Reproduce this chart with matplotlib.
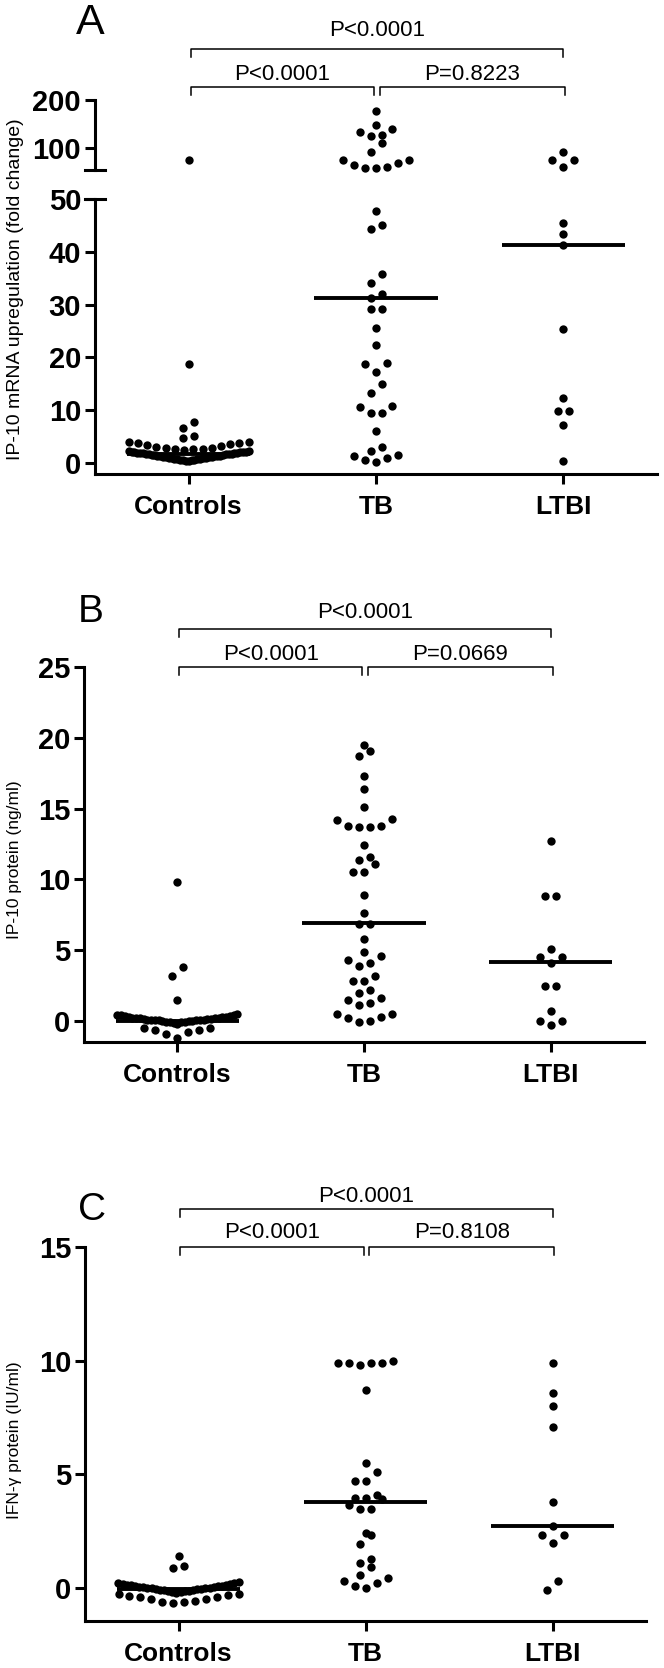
import numpy as np
import matplotlib
matplotlib.use('Agg')
import matplotlib.pyplot as plt
from matplotlib.transforms import blended_transform_factory

plt.rcParams['font.family'] = ['Liberation Sans', 'DejaVu Sans']

groups = ['Controls', 'TB', 'LTBI']

# A - IP-10 mRNA upregulation (fold change), broken axis
ctrl_a = [0.3, 0.4, 0.5, 0.5, 0.6, 0.6, 0.7, 0.7, 0.8, 0.8, 0.9, 0.9, 1.0, 1.0,
          1.1, 1.1, 1.2, 1.2, 1.3, 1.3, 1.3, 1.4, 1.4, 1.5, 1.5, 1.5, 1.6, 1.6,
          1.7, 1.7, 1.7, 1.8, 1.8, 1.8, 1.9, 1.9, 2.0, 2.0, 2.0, 2.1, 2.1, 2.2, 2.2,
          2.5, 2.6, 2.6, 2.7, 2.8, 2.9, 3.0, 3.2, 3.3, 3.5, 3.7, 3.8, 3.9, 4.0,
          4.7, 5.1, 6.7, 7.7, 18.7, 75]
tb_a = [0.1, 0.6, 1.0, 1.3, 1.5, 2.3, 3.1, 6.1, 9.4, 9.4, 10.6, 10.8, 13.2, 15.0,
        17.3, 18.7, 19.0, 22.3, 25.6, 29.1, 29.1, 31.2, 32.0, 34.0, 35.8, 44.3,
        45.1, 47.8, 59, 59, 61, 65, 68, 74, 74, 91, 111, 124, 127, 134, 140, 148, 177]
ltbi_a = [0.4, 7.2, 9.8, 9.8, 12.3, 25.3, 41.2, 43.4, 45.5, 60, 74, 74, 91]
med_a = [1.7, 31.2, 41.2]
p_a = ['P<0.0001', 'P=0.8223', 'P<0.0001']

# B - IP-10 protein (ng/ml)
ctrl_b = [-1.2, -0.95, -0.8, -0.65, -0.6, -0.5, -0.5,
          -0.2, -0.15, -0.1, -0.1, -0.05, -0.05, 0.0, 0.0, 0.0, 0.05, 0.05, 0.05,
          0.1, 0.1, 0.1, 0.1, 0.15, 0.15, 0.15, 0.2, 0.2, 0.2, 0.25, 0.25, 0.3,
          0.3, 0.3, 0.35, 0.35, 0.4, 0.4, 0.45, 0.5,
          1.5, 3.2, 3.8, 9.8]
tb_b = [19.1, 18.7, 19.5, 17.3, 16.4, 15.1, 14.3, 13.8, 13.7, 13.7, 13.8, 14.2,
        12.4, 11.6, 11.4, 11.1, 10.5, 10.5, 8.9, 7.6, 6.85, 6.85, 5.8, 4.6, 4.9,
        4.1, 3.9, 4.3, 2.8, 3.2, 2.8, 2.0, 2.2, 1.6, 1.3, 1.1, 1.5,
        0.5, 0.2, -0.05, 0.0, 0.3, 0.5]
ltbi_b = [12.7, 8.8, 8.8, 5.1, 4.5, 4.5, 4.1, 2.5, 2.5, 0.7, 0.0, 0.0, -0.3]
med_b = [0.0, 6.9, 4.2]
p_b = ['P<0.0001', 'P=0.0669', 'P<0.0001']

# C - IFN-gamma protein (IU/ml)
ctrl_c = [-0.67, -0.6, -0.6, -0.55, -0.48, -0.48, -0.41, -0.41, -0.35, -0.3, -0.26, -0.26,
          -0.2, -0.18, -0.16, -0.15, -0.13, -0.12, -0.1, -0.1, -0.08, -0.06, -0.05,
          -0.04, -0.02, 0.0, 0.0, 0.02, 0.03, 0.05, 0.06, 0.08, 0.1, 0.1, 0.12, 0.14,
          0.15, 0.17, 0.19, 0.2, 0.22, 0.25,
          0.87, 0.98, 1.42]
tb_c = [9.8, 9.9, 9.9, 9.9, 9.9, 10.0, 8.7, 5.5, 5.1, 4.7, 4.7, 4.1, 3.95, 3.95,
        3.9, 3.65, 3.47, 3.47, 2.4, 2.33, 1.92, 1.28, 1.11, 0.94, 0.57, 0.45,
        0.32, 0.23, 0.1, 0.0]
ltbi_c = [9.9, 8.6, 8.0, 7.1, 3.8, 2.74, 2.33, 2.33, 1.99, 0.32, -0.09]
med_c = [-0.05, 3.78, 2.74]
p_c = ['P<0.0001', 'P=0.8108', 'P<0.0001']

W, H = 664, 1668
fig = plt.figure(figsize=(W / 100, H / 100), dpi=100)
tick_font = ['Liberation Sans Narrow', 'Liberation Sans', 'DejaVu Sans']


def add_ax(left, top, right, bottom):
    return fig.add_axes([left / W, 1 - bottom / H, (right - left) / W, (bottom - top) / H])


def style(ax, ylim, yticks, xaxis=True):
    ax.set_xlim(-0.5, 2.5)
    ax.set_ylim(*ylim)
    for s in ['top', 'right']:
        ax.spines[s].set_visible(False)
    ax.spines['left'].set_linewidth(2.2)
    ax.spines['bottom'].set_linewidth(2.2)
    ax.set_yticks(yticks)
    ax.set_yticklabels([str(t) for t in yticks], fontweight='bold', fontsize=21, family=tick_font)
    ax.tick_params(axis='y', width=2.2, length=7, pad=3)
    if xaxis:
        ax.set_xticks([0, 1, 2])
        ax.set_xticklabels(groups, fontweight='bold', fontsize=19)
        ax.tick_params(axis='x', width=2.2, length=7, pad=8)
    else:
        ax.spines['bottom'].set_visible(False)
        ax.set_xticks([])


def swarm(ax, pos, vals, row_px=10.5, gap_px=11, half_px=60):
    vals = np.sort(np.asarray(vals, float))
    if len(vals) == 0:
        return
    ypx = ax.transData.transform(np.column_stack([np.full(len(vals), pos), vals]))[:, 1]
    xunit = ax.transData.transform([[1, 0]])[0, 0] - ax.transData.transform([[0, 0]])[0, 0]
    xs = np.zeros(len(vals))
    i = 0
    while i < len(vals):
        j = i
        while j + 1 < len(vals) and ypx[j + 1] - ypx[i] < row_px:
            j += 1
        n = j - i + 1
        step = gap_px if n == 1 else min(gap_px, 2 * half_px / (n - 1))
        for k in range(n):
            if n % 2:
                slot = ((k + 1) // 2) * (-1 if k % 2 else 1)
            else:
                slot = (k // 2 + 0.5) * (-1 if k % 2 == 0 else 1)
            xs[i + k] = slot * step
        i = j + 1
    ax.plot(pos + xs / xunit, vals, 'o', color='black', ms=6, mec='none', clip_on=False)


def medians(ax, meds):
    for i, m in enumerate(meds):
        ax.plot([i - 0.33, i + 0.33], [m, m], color='black', lw=2.8, solid_capstyle='butt')


def brackets(ax, texts, y_low, y_top, ty_low, ty_top):
    tr = blended_transform_factory(ax.transData, fig.transFigure)
    spans = [(0.01, 0.99), (1.02, 2.01), (0.01, 2.0)]
    ys = [y_low, y_low, y_top]
    tys = [ty_low, ty_low, ty_top]
    for (x0, x1), y, ty, t in zip(spans, ys, tys, texts):
        ax.plot([x0, x0, x1, x1], [1 - (y + 8) / H, 1 - y / H, 1 - y / H, 1 - (y + 8) / H],
                transform=tr, color='black', lw=1.1, clip_on=False)
        ax.text((x0 + x1) / 2, 1 - ty / H, t, transform=tr, ha='center', va='center', fontsize=16)


# ---- panel A (broken y axis) ----
ax_top = add_ax(95, 100, 657, 170)
ax_bot = add_ax(95, 199, 657, 474)
style(ax_top, (54, 200), [100, 200], xaxis=False)
style(ax_bot, (-2.1, 50), [0, 10, 20, 30, 40, 50])
ax_top.plot([-0.017, 0.017], [0, 0], transform=ax_top.transAxes, color='black', lw=2.2, clip_on=False)
ax_bot.plot([-0.017, 0.017], [1, 1], transform=ax_bot.transAxes, color='black', lw=2.2, clip_on=False)
for i, vals in enumerate([ctrl_a, tb_a, ltbi_a]):
    vals = np.asarray(vals, float)
    swarm(ax_top, i, vals[vals > 52])
    swarm(ax_bot, i, vals[vals <= 52])
medians(ax_bot, med_a)
brackets(ax_top, p_a, 87, 49, 74, 31)
fig.text(16 / W, 1 - 289 / H, 'IP-10 mRNA upregulation (fold change)', rotation=90,
         ha='center', va='center', fontsize=14)
fig.text(90 / W, 1 - 23 / H, 'A', ha='center', va='center', fontsize=31)

# ---- panel B ----
ax_b = add_ax(84, 667, 644, 1042)
style(ax_b, (-1.48, 25), [0, 5, 10, 15, 20, 25])
for i, vals in enumerate([ctrl_b, tb_b, ltbi_b]):
    swarm(ax_b, i, vals)
medians(ax_b, med_b)
brackets(ax_b, p_b, 667, 629, 655, 613)
fig.text(15 / W, 1 - 860 / H, 'IP-10 protein (ng/ml)', rotation=90,
         ha='center', va='center', fontsize=12.5)
fig.text(91 / W, 1 - 612 / H, 'B', ha='center', va='center', fontsize=28)

# ---- panel C ----
ax_c = add_ax(85, 1247, 646, 1621)
style(ax_c, (-1.45, 15), [0, 5, 10, 15])
for i, vals in enumerate([ctrl_c, tb_c, ltbi_c]):
    swarm(ax_c, i, vals)
medians(ax_c, med_c)
brackets(ax_c, p_c, 1247, 1209, 1232, 1196)
fig.text(15 / W, 1 - 1440 / H, 'IFN-\u03b3 protein (IU/ml)', rotation=90,
         ha='center', va='center', fontsize=12.5)
fig.text(92 / W, 1 - 1210 / H, 'C', ha='center', va='center', fontsize=28)

fig.savefig('out.png', dpi=100)
